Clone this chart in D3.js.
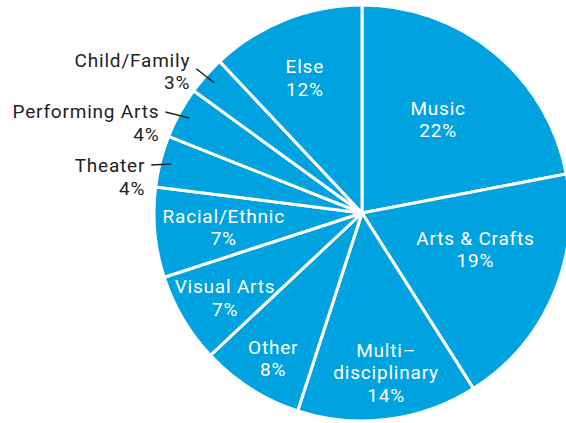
<!DOCTYPE html>
<html>
<head>
<meta charset="utf-8">
<script src="https://cdn.jsdelivr.net/npm/d3@7"></script>
<style>
  body { margin: 0; background: #fff; }
  svg text { font-family: Roboto, "Noto Sans", sans-serif; font-size: 19px; letter-spacing: 0.8px; }
</style>
</head>
<body>
<div id="chart"></div>
<script>
let categories = ['Music', 'Arts & Crafts', 'Multi–\ndisciplinary', 'Other', 'Visual Arts', 'Racial/Ethnic', 'Theater', 'Performing Arts', 'Child/Family', 'Else']
let values = [22, 19, 14, 8, 7, 7, 4, 4, 3, 12]

let width = 566
let height = 423
let radius = 208
let cx = 362
let cy = 213

// inside labels: [distance from center, angle nudge in degrees]
let labelAt = {
  'Music': [121, -0.6],
  'Arts & Crafts': [119, -5.8],
  'Multi–\ndisciplinary': [161, -1.4],
  'Other': [170, -0.9],
  'Visual Arts': [161, -1.1],
  'Racial/Ethnic': [139, -0.4],
  'Else': [147, -1.3]
}
// outside labels: leader end offset from the inner point, text y nudge
let leader = {
  'Theater': [-20, 1, 0],
  'Performing Arts': [-24, -6, -1],
  'Child/Family': [-18, -14, -9]
}

let data = categories.map((c, i) => ({ name: c, value: values[i] }))

let svg = d3.select('#chart')
  .append('svg')
  .attr('width', width)
  .attr('height', height)

let g = svg.append('g').attr('transform', `translate(${cx},${cy})`)

let pie = d3.pie().sort(null).value(d => d.value)
let arc = d3.arc().innerRadius(0).outerRadius(radius)
let arcs = pie(data)

g.selectAll('.slice')
  .data(arcs)
  .enter()
  .append('path')
  .attr('class', 'slice')
  .attr('d', arc)
  .attr('fill', '#00a3e0')
  .attr('stroke', '#fff')
  .attr('stroke-width', 3)
  .attr('stroke-linejoin', 'round')

function polar(a, r) {
  return [Math.sin(a) * r, -Math.cos(a) * r]
}

let lineH = 22.5

arcs.forEach(d => {
  let mid = (d.startAngle + d.endAngle) / 2
  let lines = d.data.name.split('\n').concat([d.data.value + '%'])
  if (leader[d.data.name]) {
    let p0 = polar(mid, 197)
    let off = leader[d.data.name]
    let p1 = [p0[0] + off[0], p0[1] + off[1]]
    g.append('line')
      .attr('x1', p0[0]).attr('y1', p0[1])
      .attr('x2', p1[0]).attr('y2', p1[1])
      .attr('stroke', '#222')
      .attr('stroke-width', 1.5)
    let t = g.append('text')
      .attr('text-anchor', 'end')
      .attr('fill', '#222')
    lines.forEach((l, i) => {
      t.append('tspan')
        .attr('x', p1[0] - 6)
        .attr('y', p1[1] + 7 + off[2] + i * lineH)
        .text(l)
    })
  } else {
    let la = labelAt[d.data.name]
    let p = polar(mid + la[1] * Math.PI / 180, la[0])
    let top = p[1] - (lines.length - 1) * lineH / 2 + 7
    let t = g.append('text')
      .attr('text-anchor', 'middle')
      .attr('fill', '#fff')
    lines.forEach((l, i) => {
      t.append('tspan')
        .attr('x', p[0])
        .attr('y', top + i * lineH)
        .text(l)
    })
  }
})
</script>
</body>
</html>
